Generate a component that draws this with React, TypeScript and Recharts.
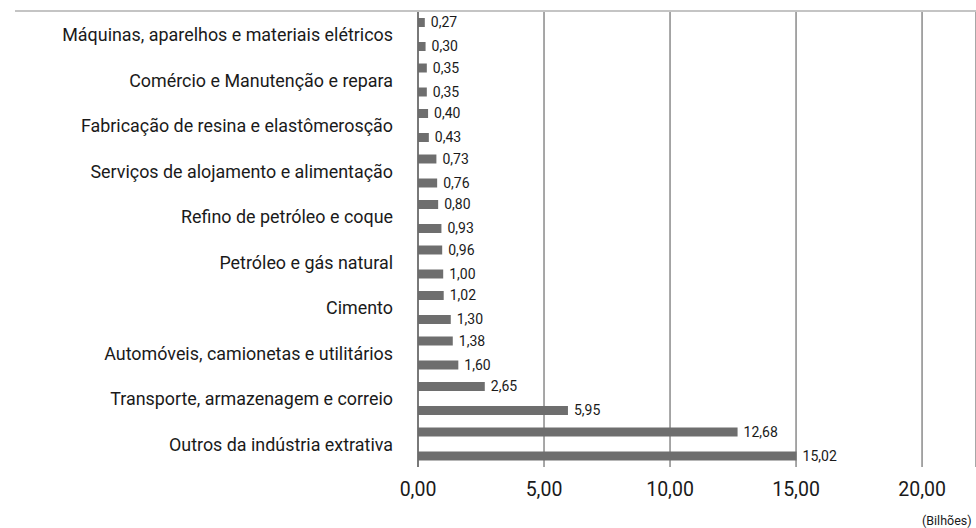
import { BarChart, Bar, XAxis, YAxis, CartesianGrid, ReferenceLine, LabelList } from "recharts"

const categories = [
  "Máquinas, aparelhos e materiais elétricos",
  "Comércio e Manutenção e repara",
  "Fabricação de resina e elastômerosção",
  "Serviços de alojamento e alimentação",
  "Refino de petróleo e coque",
  "Petróleo e gás natural",
  "Cimento",
  "Automóveis, camionetas e utilitários",
  "Transporte, armazenagem e correio",
  "Outros da indústria extrativa",
]
const firstBar = [0.27, 0.35, 0.4, 0.73, 0.8, 0.96, 1.02, 1.38, 2.65, 12.68]
const secondBar = [0.3, 0.35, 0.43, 0.76, 0.93, 1.0, 1.3, 1.6, 5.95, 15.02]
const xTicks = [0, 5, 10, 15, 20]

const data = categories.map((name, i) => ({ name, a: firstBar[i], b: secondBar[i] }))

const FONT = "Roboto, 'Liberation Sans', sans-serif"
const fmt = (v: number) => v.toFixed(2).replace(".", ",")

export default function App() {
  return (
    <div style={{ position: "absolute", left: 0, top: 0, width: 976, height: 528, background: "#fff", fontFamily: FONT }}>
      <div style={{ position: "absolute", left: 15, top: 10, width: 961, height: 2, background: "#c4c4c4" }} />
      <BarChart
        width={976}
        height={528}
        data={data}
        layout="vertical"
        margin={{ top: 12, right: 0, left: 0, bottom: 21 }}
        barSize={9}
        barGap={15}
      >
        <CartesianGrid horizontal={false} stroke="#8a8a8a" strokeWidth={1.5} />
        <XAxis
          type="number"
          domain={[0, 22.14]}
          ticks={xTicks}
          tickFormatter={fmt}
          axisLine={false}
          tickLine={false}
          height={40}
          tickMargin={9}
          tick={{ fontSize: 19.5, fill: "#1a1a1a", fontFamily: FONT }}
          allowDataOverflow
        />
        <YAxis
          type="category"
          dataKey="name"
          width={418}
          axisLine={false}
          tickLine={false}
          tickMargin={19}
          interval={0}
          tick={{ fontSize: 17.9, fill: "#1a1a1a", fontFamily: FONT }}
        />
        <ReferenceLine x={0} stroke="#6a6a6a" strokeWidth={1.5} />
        <Bar dataKey="a" fill="#6e6e6e" isAnimationActive={false}>
          <LabelList dataKey="a" position="right" offset={6} formatter={fmt} style={{ fontSize: 14, fill: "#1a1a1a", fontFamily: FONT }} />
        </Bar>
        <Bar dataKey="b" fill="#6e6e6e" isAnimationActive={false}>
          <LabelList dataKey="b" position="right" offset={6} formatter={fmt} style={{ fontSize: 14, fill: "#1a1a1a", fontFamily: FONT }} />
        </Bar>
      </BarChart>
      <div style={{ position: "absolute", left: 922, top: 513, fontSize: 12.5, color: "#1a1a1a" }}>(Bilhões)</div>
    </div>
  )
}
